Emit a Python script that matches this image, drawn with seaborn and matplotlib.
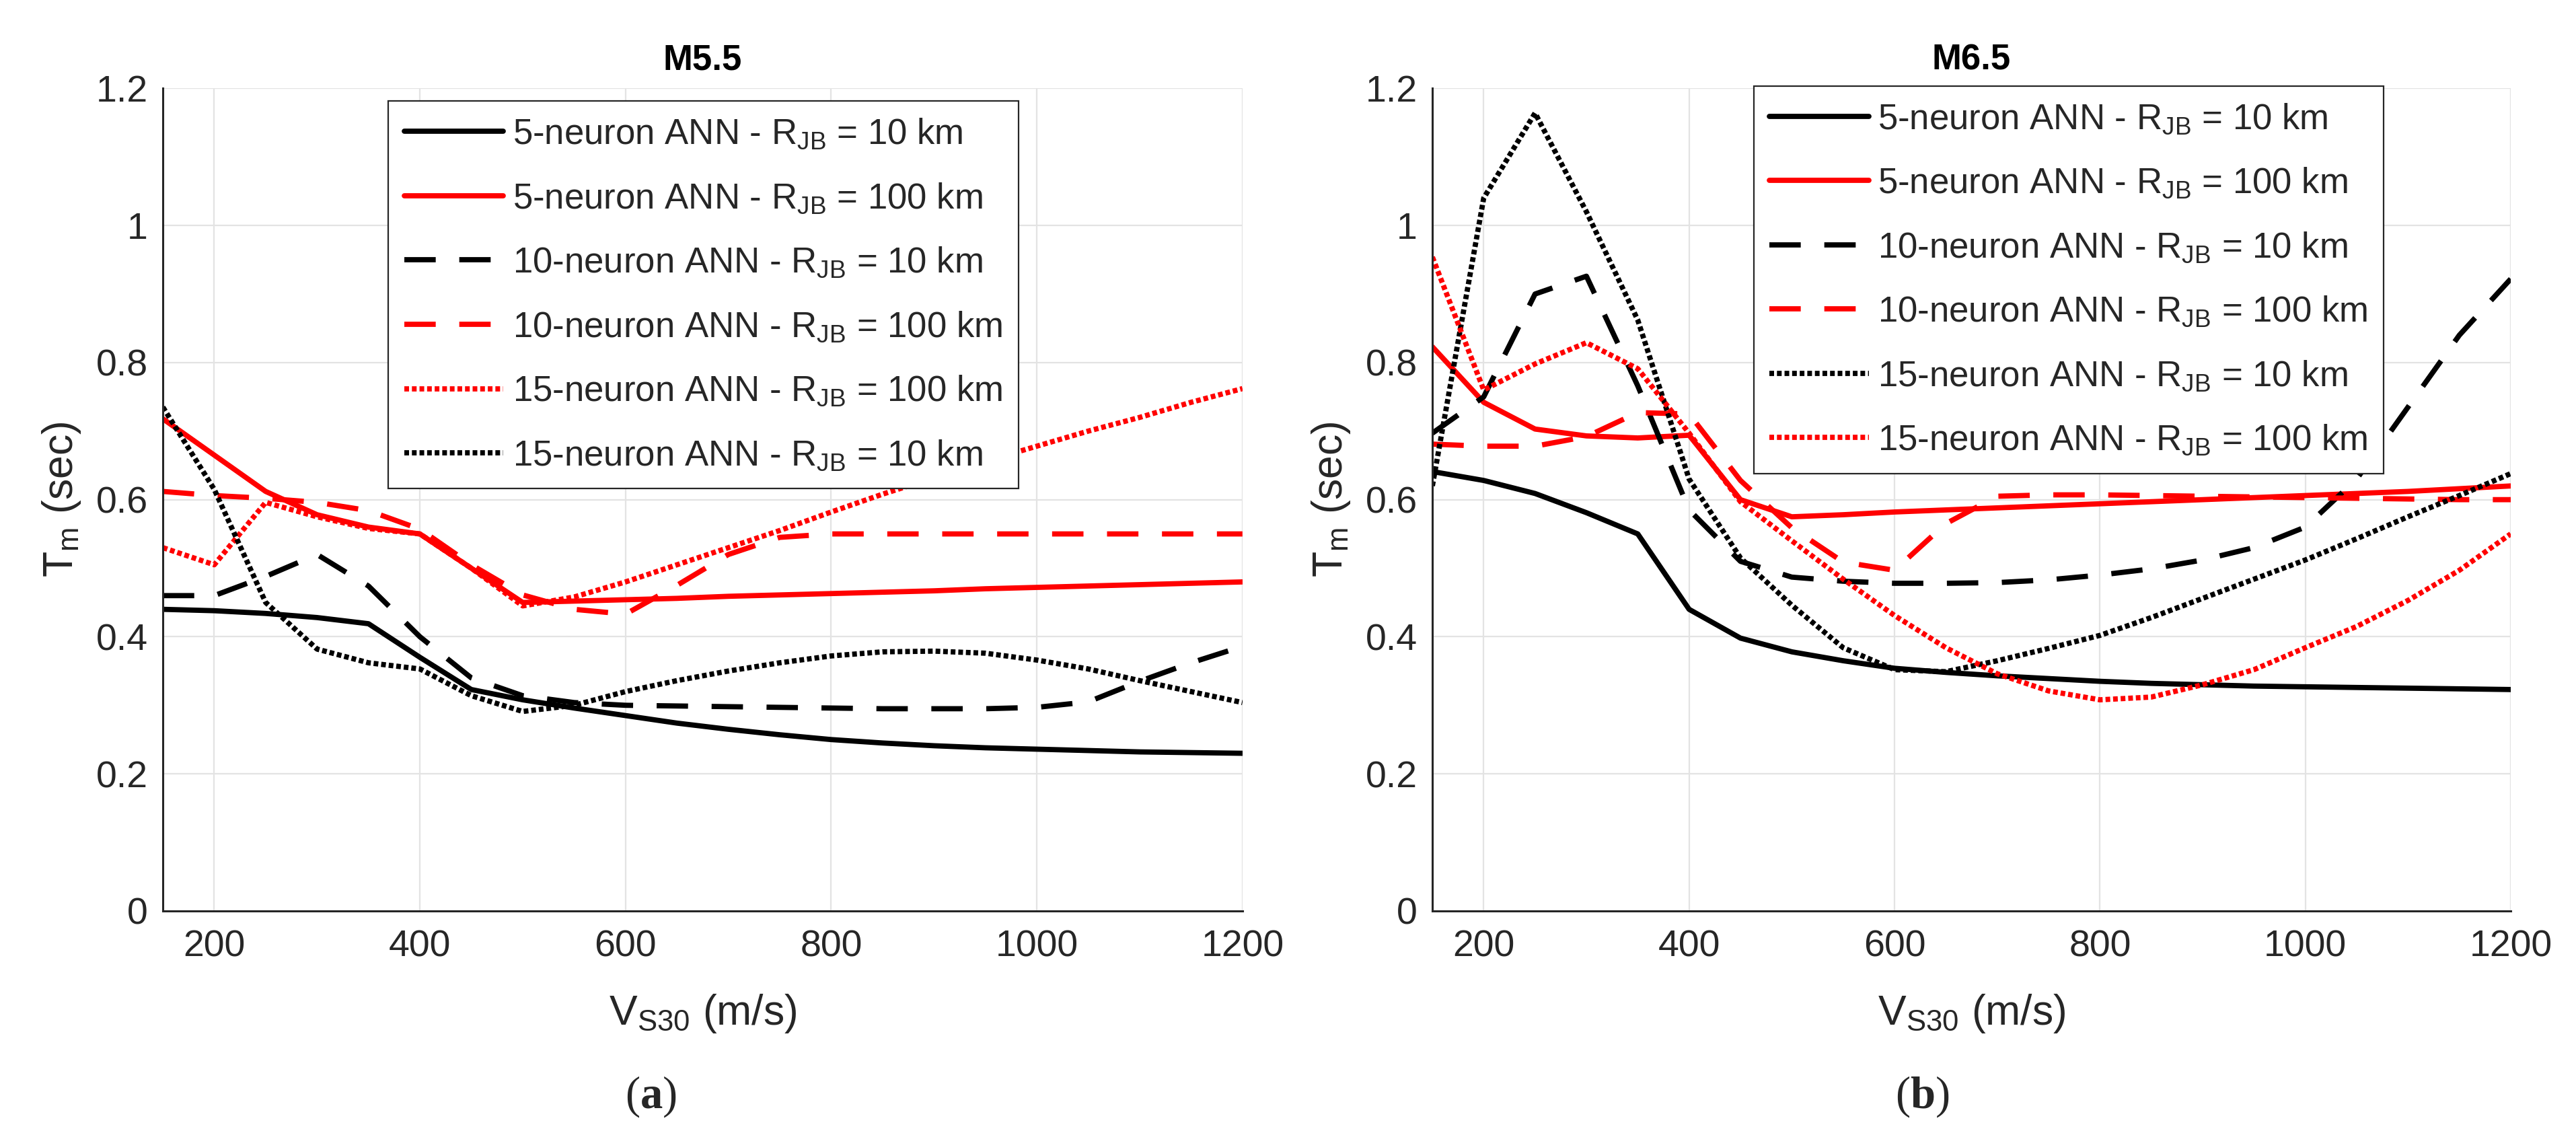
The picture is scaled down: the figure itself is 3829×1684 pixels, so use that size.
import numpy as np
import pandas as pd
import seaborn as sns
import matplotlib.pyplot as plt

# V_S30 grid (m/s)
vs30 = [150, 200, 250, 300, 350, 400, 450, 500, 550, 600, 650,
        700, 750, 800, 850, 900, 950, 1000, 1050, 1100, 1150, 1200]

# M5.5 panel, Tm (sec)
m55_ann5_r10 = [0.440, 0.438, 0.434, 0.428, 0.419, 0.370, 0.323, 0.308, 0.296, 0.285, 0.274,
                0.265, 0.257, 0.250, 0.245, 0.241, 0.238, 0.236, 0.234, 0.232, 0.231, 0.230]
m55_ann5_r100 = [0.718, 0.665, 0.612, 0.578, 0.560, 0.550, 0.500, 0.450, 0.452, 0.454, 0.456,
                 0.459, 0.461, 0.463, 0.465, 0.467, 0.470, 0.472, 0.474, 0.476, 0.478, 0.480]
m55_ann10_r10 = [0.460, 0.460, 0.488, 0.520, 0.474, 0.400, 0.340, 0.314, 0.304, 0.300, 0.299,
                 0.298, 0.297, 0.296, 0.295, 0.295, 0.295, 0.297, 0.305, 0.335, 0.362, 0.386]
m55_ann10_r100 = [0.612, 0.606, 0.602, 0.596, 0.584, 0.557, 0.505, 0.461, 0.440, 0.433, 0.475,
                  0.520, 0.545, 0.550, 0.550, 0.550, 0.550, 0.550, 0.550, 0.550, 0.550, 0.550]
m55_ann15_r100 = [0.530, 0.505, 0.596, 0.575, 0.558, 0.550, 0.500, 0.445, 0.458, 0.480, 0.505,
                  0.530, 0.555, 0.582, 0.608, 0.632, 0.656, 0.678, 0.700, 0.720, 0.742, 0.762]
m55_ann15_r10 = [0.735, 0.615, 0.450, 0.382, 0.362, 0.353, 0.314, 0.291, 0.300, 0.320, 0.336,
                 0.350, 0.362, 0.372, 0.378, 0.379, 0.376, 0.366, 0.353, 0.336, 0.320, 0.304]

# M6.5 panel, Tm (sec)
m65_ann5_r10 = [0.641, 0.628, 0.609, 0.581, 0.550, 0.440, 0.398, 0.378, 0.365, 0.354, 0.348,
                0.343, 0.339, 0.335, 0.332, 0.330, 0.328, 0.327, 0.326, 0.325, 0.324, 0.323]
m65_ann5_r100 = [0.823, 0.742, 0.703, 0.693, 0.690, 0.694, 0.600, 0.575, 0.578, 0.582, 0.585,
                 0.588, 0.591, 0.594, 0.597, 0.600, 0.603, 0.606, 0.609, 0.612, 0.616, 0.620]
m65_ann10_r10 = [0.697, 0.750, 0.900, 0.926, 0.766, 0.585, 0.510, 0.487, 0.481, 0.478, 0.478,
                 0.479, 0.483, 0.490, 0.499, 0.512, 0.530, 0.560, 0.630, 0.735, 0.840, 0.922]
m65_ann10_r100 = [0.681, 0.678, 0.678, 0.692, 0.727, 0.725, 0.628, 0.559, 0.509, 0.497, 0.565,
                  0.605, 0.607, 0.607, 0.606, 0.605, 0.604, 0.603, 0.602, 0.601, 0.600, 0.600]
m65_ann15_r10 = [0.620, 1.040, 1.164, 1.020, 0.862, 0.630, 0.515, 0.446, 0.384, 0.352, 0.349,
                 0.365, 0.383, 0.402, 0.428, 0.456, 0.484, 0.512, 0.543, 0.575, 0.606, 0.638]
m65_ann15_r100 = [0.954, 0.760, 0.798, 0.829, 0.791, 0.697, 0.597, 0.540, 0.484, 0.431, 0.384,
                  0.346, 0.321, 0.308, 0.312, 0.330, 0.352, 0.384, 0.415, 0.453, 0.497, 0.550]

RJB = r"R$_{\mathrm{JB}}$"
lab_5_10 = "5-neuron ANN - " + RJB + " = 10 km"
lab_5_100 = "5-neuron ANN - " + RJB + " = 100 km"
lab_10_10 = "10-neuron ANN - " + RJB + " = 10 km"
lab_10_100 = "10-neuron ANN - " + RJB + " = 100 km"
lab_15_10 = "15-neuron ANN - " + RJB + " = 10 km"
lab_15_100 = "15-neuron ANN - " + RJB + " = 100 km"

solid = "-"
dashed = (0, (6, 4.5))
dotted = (0, (0.9, 0.55))

# (label, values, colour, linestyle) in legend order
panel_a = [(lab_5_10, m55_ann5_r10, "black", solid),
           (lab_5_100, m55_ann5_r100, "red", solid),
           (lab_10_10, m55_ann10_r10, "black", dashed),
           (lab_10_100, m55_ann10_r100, "red", dashed),
           (lab_15_100, m55_ann15_r100, "red", dotted),
           (lab_15_10, m55_ann15_r10, "black", dotted)]
panel_b = [(lab_5_10, m65_ann5_r10, "black", solid),
           (lab_5_100, m65_ann5_r100, "red", solid),
           (lab_10_10, m65_ann10_r10, "black", dashed),
           (lab_10_100, m65_ann10_r100, "red", dashed),
           (lab_15_10, m65_ann15_r10, "black", dotted),
           (lab_15_100, m65_ann15_r100, "red", dotted)]

sns.set_style("white")
plt.rcParams['font.family'] = ['Liberation Sans', 'DejaVu Sans']
plt.rcParams['mathtext.fontset'] = 'custom'
plt.rcParams['mathtext.rm'] = 'Liberation Sans'
plt.rcParams['mathtext.it'] = 'Liberation Sans:italic'
plt.rcParams['mathtext.bf'] = 'Liberation Serif:bold'

dark = "#262626"

fig = plt.figure(figsize=(38.3, 16.84), dpi=100)
ax_a = fig.add_axes([0.0632, 0.196, 0.419, 0.726])
ax_b = fig.add_axes([0.5559, 0.196, 0.4185, 0.726])


def draw_panel(ax, series, title, leg_anchor):
    for label, vals, color, ls in series:
        df = pd.DataFrame({"vs30": vs30, "tm": vals})
        sns.lineplot(data=df, x="vs30", y="tm", ax=ax, color=color,
                     linestyle=ls, linewidth=5.6, label=label)
    ax.set_xlim(150, 1200)
    ax.set_ylim(0, 1.2)
    ax.set_xticks([200, 400, 600, 800, 1000, 1200])
    ax.set_yticks([0, 0.2, 0.4, 0.6, 0.8, 1.0, 1.2])
    ax.set_yticklabels(["0", "0.2", "0.4", "0.6", "0.8", "1", "1.2"])
    ax.grid(True, color="#e3e3e3", linewidth=1.6)
    ax.set_axisbelow(True)
    for side in ["top", "right"]:
        ax.spines[side].set_visible(False)
    for side in ["left", "bottom"]:
        ax.spines[side].set_color(dark)
        ax.spines[side].set_linewidth(2.2)
    ax.tick_params(axis="both", direction="in", length=11, width=2,
                   color=dark, labelcolor=dark, labelsize=40)
    ax.tick_params(axis="x", pad=20)
    ax.tick_params(axis="y", pad=16)
    ax.set_xlabel(r"V$_{\mathrm{S30}}$ (m/s)", fontsize=45, color=dark, labelpad=30)
    ax.set_ylabel(r"T$_{\mathrm{m}}$ (sec)", fontsize=45, color=dark, labelpad=14)
    ax.set_title(title, fontsize=38, fontweight="bold", color="black", pad=20)
    leg = ax.legend(loc="upper left", bbox_to_anchor=leg_anchor, borderaxespad=0,
                    fontsize=38, frameon=True, fancybox=False, framealpha=1,
                    edgecolor=dark, handlelength=2.8, handletextpad=0.25,
                    labelspacing=0.85, borderpad=0.45)
    leg.get_frame().set_linewidth(1.6)


draw_panel(ax_a, panel_a, "M5.5", (0.2087, 0.9845))
draw_panel(ax_b, panel_b, "M6.5", (0.298, 1.003))

fig.text(967 / 3830, 1 - 1630 / 1684, r"($\mathbf{a}$)", family="Liberation Serif",
         fontsize=48, ha="center", va="center")
fig.text(2857 / 3830, 1 - 1630 / 1684, r"($\mathbf{b}$)", family="Liberation Serif",
         fontsize=48, ha="center", va="center")

fig.savefig("out.png", dpi=100)
